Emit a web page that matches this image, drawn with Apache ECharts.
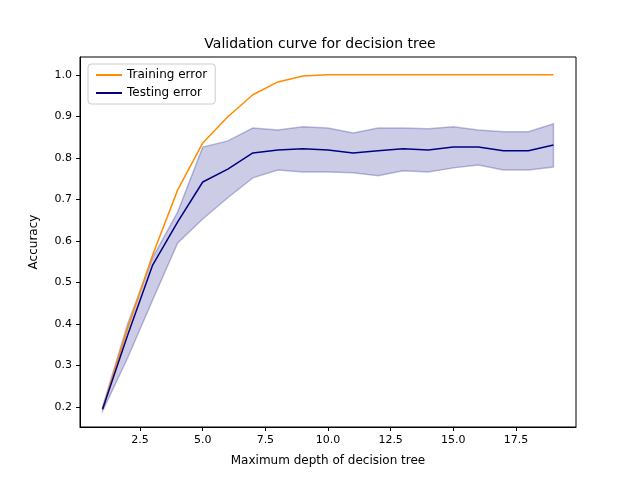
<!DOCTYPE html>
<html>
<head>
<meta charset="utf-8">
<script src="https://cdn.jsdelivr.net/npm/echarts@6/dist/echarts.min.js"></script>
<style>html,body{margin:0;background:#fff}#c{width:640px;height:480px}</style>
</head>
<body>
<div id="c"></div>
<script>
// max depth values
const depths = [1,2,3,4,5,6,7,8,9,10,11,12,13,14,15,16,17,18,19];
const trainScore = [0.195,0.39,0.566,0.723,0.836,0.899,0.952,0.983,0.997,1.0,1.0,1.0,1.0,1.0,1.0,1.0,1.0,1.0,1.0];
const testScore = [0.195,0.373,0.542,0.646,0.742,0.773,0.812,0.819,0.822,0.819,0.812,0.817,0.822,0.819,0.826,0.826,0.817,0.817,0.831];
const testUpper = [0.2,0.40,0.56,0.67,0.826,0.841,0.872,0.867,0.875,0.872,0.860,0.872,0.872,0.870,0.875,0.867,0.863,0.863,0.882];
const testLower = [0.19,0.318,0.458,0.595,0.653,0.704,0.752,0.771,0.766,0.766,0.764,0.757,0.769,0.766,0.776,0.783,0.771,0.771,0.778];
const xTicks = [2.5,5,7.5,10,12.5,15,17.5];
const yTicks = [0.2,0.3,0.4,0.5,0.6,0.7,0.8,0.9,1.0];

const pairs = arr => depths.map((d, i) => [d, arr[i]]);

const chart = echarts.init(document.getElementById("c"));
const font = "DejaVu Sans";
chart.setOption({
  animation: false,
  textStyle: { fontFamily: font },
  title: {
    text: "Validation curve for decision tree",
    left: "center", top: 32,
    textStyle: { fontFamily: font, fontSize: 14, fontWeight: "normal", color: "#000" }
  },
  legend: {
    data: ["Training error", "Testing error"],
    orient: "vertical", left: 88, top: 64,
    backgroundColor: "#fff", borderColor: "#ccc", borderWidth: 1, borderRadius: 3,
    padding: [5, 8], itemGap: 6, itemWidth: 26, itemHeight: 2,
    icon: "rect",
    textStyle: { fontFamily: font, fontSize: 12, color: "#000" }
  },
  grid: { left: 80, right: 64, top: 57, bottom: 53, show: true, borderColor: "#000", borderWidth: 1 },
  xAxis: {
    type: "value", min: 0.1, max: 19.9,
    name: "Maximum depth of decision tree", nameLocation: "middle", nameGap: 28,
    nameTextStyle: { fontFamily: font, fontSize: 12, color: "#000" },
    axisLine: { show: true, lineStyle: { color: "#000" } },
    axisTick: { show: true, customValues: xTicks, length: 4, lineStyle: { color: "#000" } },
    axisLabel: { customValues: xTicks, color: "#000", fontSize: 11, formatter: v => v.toFixed(1) },
    splitLine: { show: false }
  },
  yAxis: {
    type: "value", min: 0.152, max: 1.043,
    name: "Accuracy", nameLocation: "middle", nameGap: 40,
    nameTextStyle: { fontFamily: font, fontSize: 12, color: "#000" },
    axisLine: { show: true, lineStyle: { color: "#000" } },
    axisTick: { show: true, customValues: yTicks, length: 4, lineStyle: { color: "#000" } },
    axisLabel: { customValues: yTicks, color: "#000", fontSize: 11, formatter: v => v.toFixed(1) },
    splitLine: { show: false }
  },
  series: [
    {
      name: "band", type: "custom", silent: true, z: 1,
      data: [0],
      renderItem: (params, api) => {
        const pts = depths.map((d, i) => api.coord([d, testUpper[i]]))
          .concat(depths.map((d, i) => api.coord([d, testLower[i]])).reverse());
        return {
          type: "polygon",
          shape: { points: pts },
          style: { fill: "rgba(0,0,128,0.2)", stroke: "rgba(0,0,128,0.25)", lineWidth: 1.5 }
        };
      }
    },
    {
      name: "Training error", type: "line", data: pairs(trainScore), z: 3,
      symbol: "none", color: "#ff8c00", lineStyle: { width: 1.5, color: "#ff8c00" }
    },
    {
      name: "Testing error", type: "line", data: pairs(testScore), z: 3,
      symbol: "none", color: "#000080", lineStyle: { width: 1.5, color: "#000080" }
    }
  ]
});
</script>
</body>
</html>
